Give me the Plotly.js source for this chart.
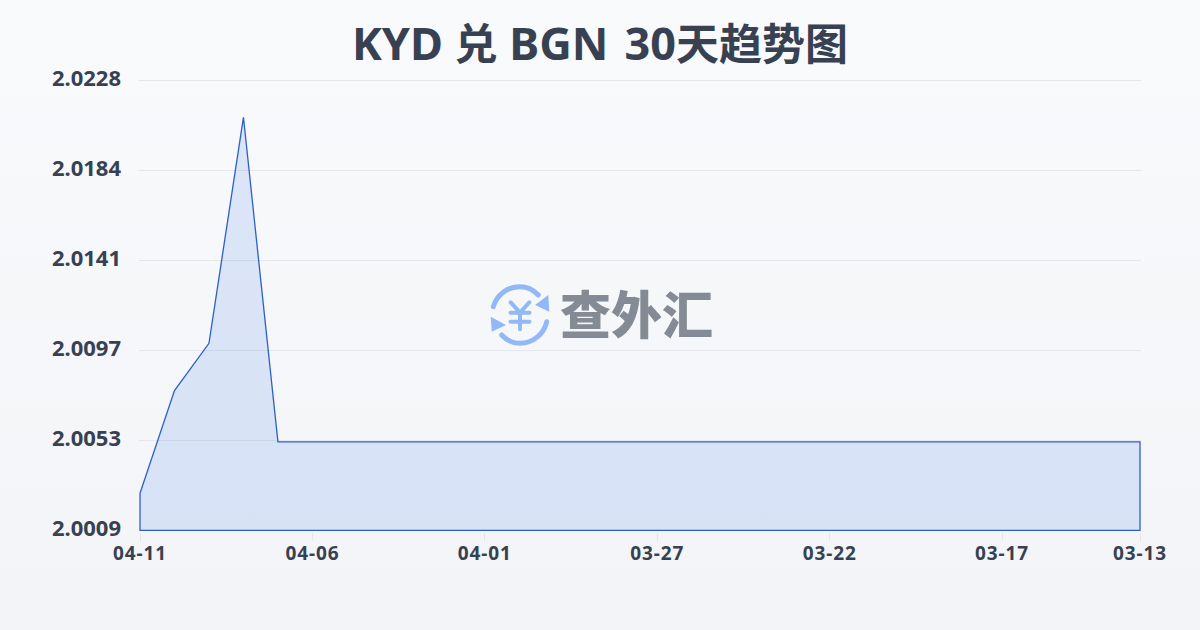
<!DOCTYPE html>
<html>
<head>
<meta charset="utf-8">
<script src="https://cdn.plot.ly/plotly-3.0.1.min.js"></script>
<style>
html,body{margin:0;padding:0;width:1200px;height:630px;overflow:hidden;background:linear-gradient(180deg,#f8fafc 0%,#f2f4f7 100%);}
#chart{width:1200px;height:630px;}
.xtick text{letter-spacing:0.9px;}
</style>
</head>
<body>
<div id="chart"></div>
<script>
const dates = ["04-11","04-10","04-09","04-08","04-07","04-06","04-05","04-04","04-03","04-02","04-01","03-31","03-30","03-29","03-28","03-27","03-26","03-25","03-24","03-23","03-22","03-21","03-20","03-19","03-18","03-17","03-16","03-15","03-14","03-13"];
const rates = [2.0027,2.0077,2.0100,2.0210,2.0052,2.0052,2.0052,2.0052,2.0052,2.0052,2.0052,2.0052,2.0052,2.0052,2.0052,2.0052,2.0052,2.0052,2.0052,2.0052,2.0052,2.0052,2.0052,2.0052,2.0052,2.0052,2.0052,2.0052,2.0052,2.0052];
const baseline = 2.0009;
const yRange = [2.00081727, 2.02291193];
const xPad = 0.029;
const yTickVals = [2.0009,2.00528,2.00966,2.01404,2.01842,2.0228];
const yTickText = ["2.0009","2.0053","2.0097","2.0141","2.0184","2.0228"];
const xTickVals = ["04-11","04-06","04-01","03-27","03-22","03-17","03-13"];
const titleLatin = 45;
const titleCjk = 43;
const titleText = '<span style="font-size:' + titleLatin + 'px">KYD </span>兑<span style="font-size:' + titleLatin + 'px"> BGN \u200A30</span>天趋势图';
const watermarkText = "查外汇";
const FONT = '"Noto Sans","Noto Sans CJK SC",sans-serif';
const INK = "#374151";

const iconSvg = '<svg xmlns="http://www.w3.org/2000/svg" viewBox="0 0 64 64">' +
 '<g fill="none" stroke="#93b8f8" stroke-linecap="round" stroke-linejoin="round">' +
 '<path stroke-width="5" d="M5.300 23.700A27.500 27.500 0 0 1 32 3.700C39 3.700 45.500 6.800 50.300 12"/>' +
 '<path stroke-width="5" d="M58.700 38.700A27.500 27.500 0 0 1 32 60.300C25 60.300 18.500 57.200 13.700 52"/>' +
 '<path stroke-width="4" d="M22.700 19.300L32 29.700L41.300 19.300M32 29.700V46.300M22.500 29.700H41.500M22.500 38.700H41.500"/></g>' +
 '<path fill="#93b8f8" d="M60.300 12L61.300 28.700L47 22ZM2.700 33.700L3.700 48.700L18 42Z"/>' +
 '</svg>';

const trace = {
  type: "scatter",
  mode: "lines",
  x: dates.concat([dates[dates.length - 1], dates[0], dates[0]]),
  y: rates.concat([baseline, baseline, rates[0]]),
  fill: "toself",
  fillcolor: "rgba(37,99,235,0.13)",
  line: {color: "#2b5fc9", width: 1.3},
  cliponaxis: false,
  hoverinfo: "skip"
};

const layout = {
  width: 1200, height: 630,
  paper_bgcolor: "rgba(0,0,0,0)",
  plot_bgcolor: "rgba(0,0,0,0)",
  margin: {l: 139, r: 59, t: 78, b: 98},
  showlegend: false,
  title: {text: titleText, x: 0.5, xanchor: "center", y: 0.928, yanchor: "middle",
          font: {family: FONT, size: titleCjk, color: INK, weight: 700}},
  xaxis: {
    type: "category", categoryorder: "array", categoryarray: dates,
    range: [-xPad, dates.length - 1 + xPad],
    tickmode: "array", tickvals: xTickVals, ticktext: xTickVals,
    showgrid: false, zeroline: false, showline: false,
    ticks: "outside", ticklen: 8, tickwidth: 1, tickcolor: "#e5e7eb", ticklabelstandoff: -4, ticklabelshift: 1.5,
    tickfont: {family: FONT, size: 19, color: INK, weight: 700}
  },
  yaxis: {
    range: yRange,
    tickmode: "array", tickvals: yTickVals, ticktext: yTickText,
    showgrid: true, gridcolor: "#e5e7eb", gridwidth: 1,
    zeroline: false, showline: false, ticks: "", ticklabelstandoff: 17, ticklabelshift: -2,
    tickfont: {family: FONT, size: 22, color: INK, weight: 700}
  },
  images: [{
    source: "data:image/svg+xml;charset=utf-8," + encodeURIComponent(iconSvg),
    xref: "paper", yref: "paper", xanchor: "left", yanchor: "top",
    x: (488 - 139) / 1002, y: (532 - 283) / 454,
    sizex: 64 / 1002, sizey: 64 / 454, sizing: "stretch", layer: "above"
  }],
  annotations: [{
    text: watermarkText, xref: "paper", yref: "paper",
    x: (636 - 139) / 1002, y: (532 - 312) / 454, xanchor: "center", yanchor: "middle",
    showarrow: false,
    font: {family: '"Noto Sans CJK SC",sans-serif', size: 51, color: "#858b94", weight: 900}
  }]
};

Plotly.newPlot("chart", [trace], layout, {displayModeBar: false, responsive: false, staticPlot: true});
</script>
</body>
</html>
